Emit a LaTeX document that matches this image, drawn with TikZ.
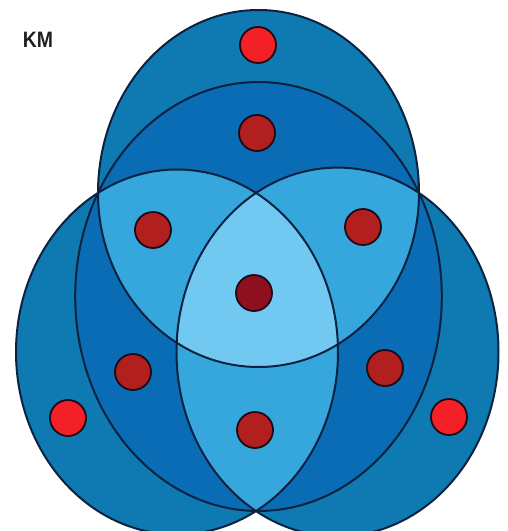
\documentclass[tikz,border=0pt]{standalone}
\usepackage{fontspec}
\setmainfont{Liberation Sans}
\usepackage{graphicx}
\definecolor{cOuter}{HTML}{0F79B2}
\definecolor{cSingle}{HTML}{0A6CB4}
\definecolor{cPair}{HTML}{36A7DD}
\definecolor{cCenter}{HTML}{71C9F1}
\definecolor{cLine}{HTML}{0B2240}
\definecolor{cRed}{HTML}{F42028}
\definecolor{cDark}{HTML}{B21F1F}
\definecolor{cMaroon}{HTML}{8E1020}
\definecolor{cDotLine}{HTML}{1E0A12}
\definecolor{cText}{HTML}{231F20}
\def\shapeT{(98,193) arc[start angle=180, end angle=360, x radius=160.5, y radius=183] arc[start angle=0, end angle=180, x radius=160.5, y radius=174] -- cycle}
\def\shapeL{(177,352) ellipse [x radius=161, y radius=182.5]}
\def\shapeR{(337.5,352) ellipse [x radius=161, y radius=184.4]}
\def\shapeI{(258.5,296.5) ellipse [x radius=183.3, y radius=214.5]}
\tikzset{
  outline/.style={draw=cLine, line width=2pt},
  dotbase/.style={circle, minimum size=36pt, inner sep=0pt, draw=cDotLine, line width=1.8pt},
  dotouter/.style={dotbase, fill=cRed},
  dotmid/.style={dotbase, fill=cDark},
  dotcenter/.style={dotbase, fill=cMaroon},
}
\begin{document}
\begin{tikzpicture}[x=1pt,y=-1pt]
\useasboundingbox (0,0) rectangle (507,531);
\begin{scope}
  \clip (0,0) rectangle (507,531);
  % outer layer
  \fill[cOuter] \shapeT;
  \fill[cOuter] \shapeL;
  \fill[cOuter] \shapeR;
  % inner single layer
  \fill[cSingle] \shapeI;
  % pairwise regions
  \begin{scope}
    \clip \shapeT;
    \fill[cPair] \shapeL;
    \fill[cPair] \shapeR;
  \end{scope}
  \begin{scope}
    \clip \shapeL;
    \fill[cPair] \shapeR;
  \end{scope}
  % centre region
  \begin{scope}
    \clip \shapeT;
    \clip \shapeL;
    \fill[cCenter] \shapeR;
  \end{scope}
  % outlines
  \path[outline] \shapeI;
  \path[outline] \shapeT;
  \path[outline] \shapeL;
  \path[outline] \shapeR;
\end{scope}
% dots
\node[dotouter]  (dTop)    at (258,45)  {};
\node[dotouter]  (dLeft)   at (68,418)  {};
\node[dotouter]  (dRight)  at (449,417) {};
\node[dotmid]    (sTop)    at (257,133) {};
\node[dotmid]    (sLeft)   at (133,372) {};
\node[dotmid]    (sRight)  at (385,368) {};
\node[dotmid]    (pUL)     at (153,230) {};
\node[dotmid]    (pUR)     at (363,227) {};
\node[dotmid]    (pB)      at (255,430) {};
\node[dotcenter] (cMid)    at (254,293) {};
% label
\node[text=cText, font=\fontsize{22.3}{24}\selectfont\bfseries, inner sep=0pt] (km) at (38,40) {\scalebox{0.87}[1]{KM}};
\end{tikzpicture}
\end{document}
